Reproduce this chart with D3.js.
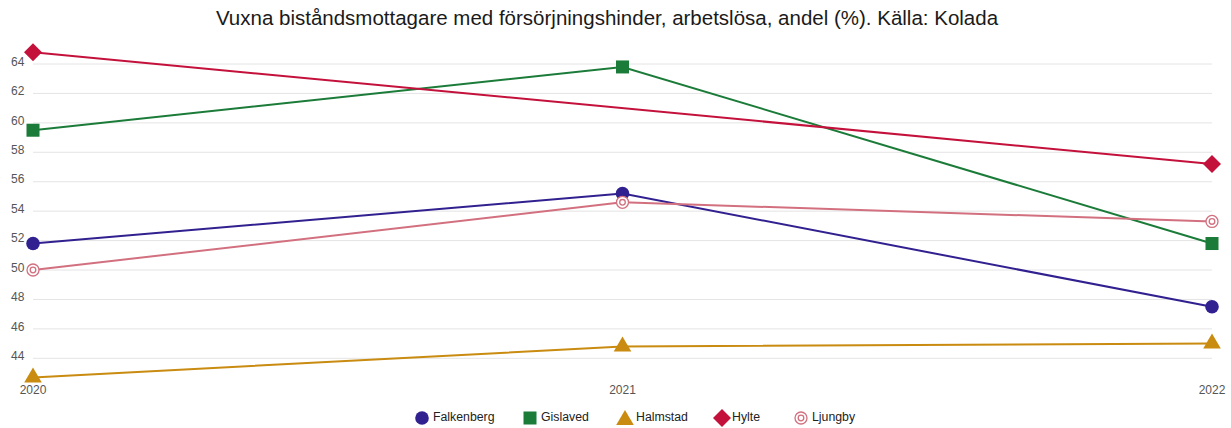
<!DOCTYPE html>
<html>
<head>
<meta charset="utf-8">
<script src="https://cdn.jsdelivr.net/npm/d3@7"></script>
<style>
  html, body { margin: 0; padding: 0; background: #fff; }
  svg { display: block; font-family: "Liberation Sans", Arial, sans-serif; }
</style>
</head>
<body>
<svg id="chart" width="1231" height="428"></svg>
<script>
const title = "Vuxna biståndsmottagare med försörjningshinder, arbetslösa, andel (%). Källa: Kolada";
const years = ["2020", "2021", "2022"];
const yTicks = [44, 46, 48, 50, 52, 54, 56, 58, 60, 62, 64];

const falkenberg = [51.8, 55.2, 47.5];
const gislaved   = [59.5, 63.8, 51.8];
const halmstad   = [42.7, 44.8, 45.0];
const hylte      = [64.8, null, 57.2];
const ljungby    = [50.0, 54.6, 53.3];

const seriesNames = ["Falkenberg", "Gislaved", "Halmstad", "Hylte", "Ljungby"];
const seriesValues = [falkenberg, gislaved, halmstad, hylte, ljungby];
const seriesColors = ["#31208f", "#1b7b38", "#c98b10", "#c4113b", "#d2707f"];
const seriesShapes = ["circle", "square", "triangle", "diamond", "ring"];

const svg = d3.select("#chart");

const x = d3.scalePoint().domain(years).range([33, 1212]);
const y = d3.scaleLinear().domain([44, 64]).range([358.3, 64]);

// title
svg.append("text")
  .attr("x", 607).attr("y", 25)
  .attr("text-anchor", "middle")
  .attr("font-size", 20.5)
  .attr("fill", "#1a1a1a")
  .text(title);

// gridlines
const grid = svg.append("g");
grid.selectAll("line").data(yTicks).join("line")
  .attr("x1", x(years[0])).attr("x2", x(years[years.length - 1]))
  .attr("y1", d => y(d)).attr("y2", d => y(d))
  .attr("stroke", "#e4e4e4").attr("stroke-width", 1);

// y tick labels
svg.append("g").selectAll("text").data(yTicks).join("text")
  .attr("x", 11).attr("y", d => y(d) - 1.5)
  .attr("dominant-baseline", "middle")
  .attr("font-size", 12)
  .attr("fill", "#555")
  .text(d => d);

// x tick labels
svg.append("g").selectAll("text").data(years).join("text")
  .attr("x", d => x(d)).attr("y", 394)
  .attr("text-anchor", "middle")
  .attr("font-size", 12)
  .attr("fill", "#555")
  .text(d => d);

function drawMarker(g, shape, color, cx, cy, s) {
  s = s || 1;
  if (shape === "circle") {
    g.append("circle").attr("cx", cx).attr("cy", cy).attr("r", 6.8 * s).attr("fill", color);
  } else if (shape === "square") {
    const h = 6.5 * s;
    g.append("rect").attr("x", cx - h).attr("y", cy - h).attr("width", 2 * h).attr("height", 2 * h).attr("fill", color);
  } else if (shape === "triangle") {
    const w = 8.8 * s, hh = 15 * s;
    g.append("path")
      .attr("d", `M${cx},${cy - hh * 2 / 3}L${cx + w},${cy + hh / 3}L${cx - w},${cy + hh / 3}Z`)
      .attr("fill", color);
  } else if (shape === "diamond") {
    const r = 9 * s;
    g.append("path")
      .attr("d", `M${cx},${cy - r}L${cx + r},${cy}L${cx},${cy + r}L${cx - r},${cy}Z`)
      .attr("fill", color);
  } else if (shape === "ring") {
    g.append("circle").attr("cx", cx).attr("cy", cy).attr("r", 6 * s)
      .attr("fill", "#fff").attr("stroke", color).attr("stroke-width", 1.3);
    g.append("circle").attr("cx", cx).attr("cy", cy).attr("r", 2.8 * s)
      .attr("fill", "#fff").attr("stroke", color).attr("stroke-width", 1.3);
  }
}

const line = d3.line().x(d => x(d.year)).y(d => y(d.value));

seriesNames.forEach((name, i) => {
  const pts = years.map((yr, j) => ({ year: yr, value: seriesValues[i][j] }))
    .filter(d => d.value !== null);
  svg.append("path")
    .datum(pts)
    .attr("d", line)
    .attr("fill", "none")
    .attr("stroke", seriesColors[i])
    .attr("stroke-width", 2);
});

seriesNames.forEach((name, i) => {
  const g = svg.append("g");
  years.forEach((yr, j) => {
    const v = seriesValues[i][j];
    if (v === null) return;
    drawMarker(g, seriesShapes[i], seriesColors[i], x(yr), y(v));
  });
});

// legend
const legendX = [422, 530, 625, 722, 801];
const legend = svg.append("g");
seriesNames.forEach((name, i) => {
  const g = legend.append("g");
  const cx = legendX[i];
  const cy = 418;
  drawMarker(g, seriesShapes[i], seriesColors[i], cx, i === 2 ? cy + 2 : cy, 1);
  g.append("text")
    .attr("x", cx + (i === 3 ? 10 : 11))
    .attr("y", cy)
    .attr("dominant-baseline", "middle")
    .attr("font-size", 12.3)
    .attr("fill", "#222")
    .text(name);
});
</script>
</body>
</html>
